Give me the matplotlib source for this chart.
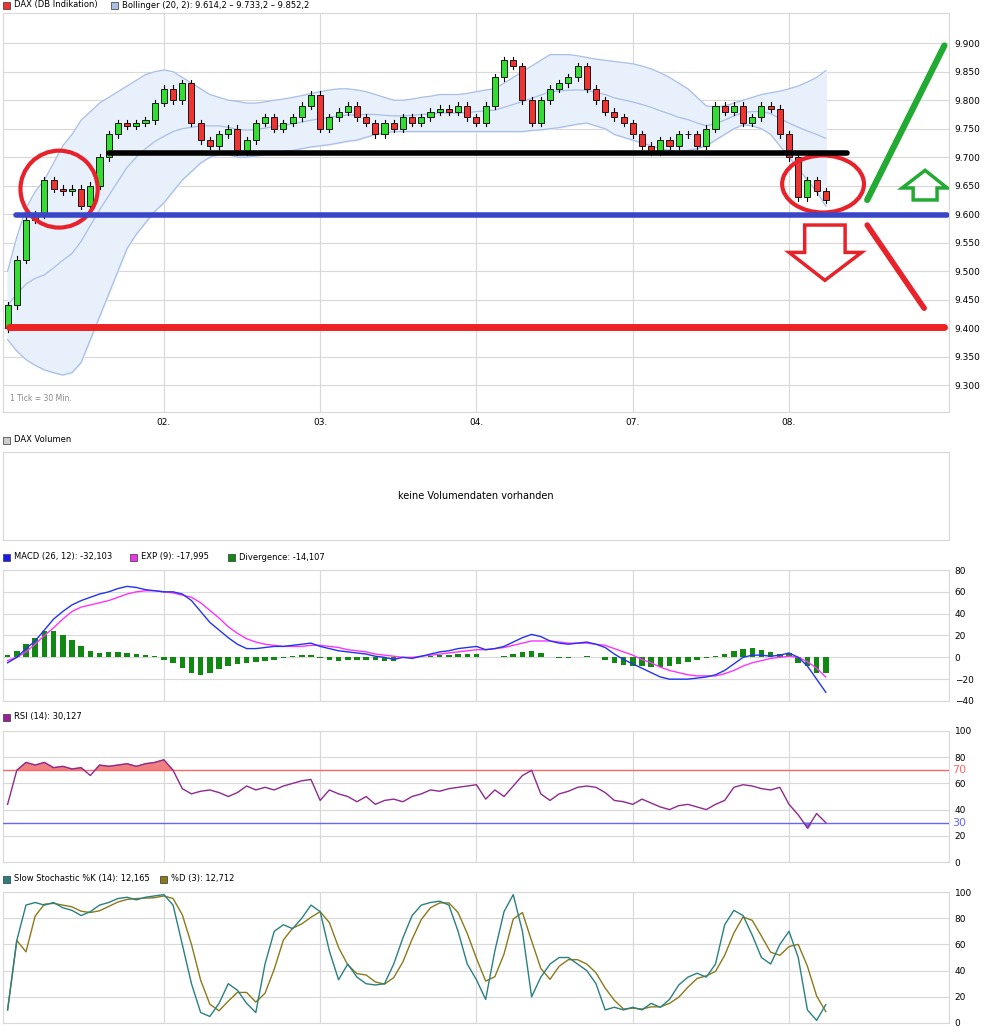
import numpy as np
import matplotlib
matplotlib.use("Agg")
import matplotlib.pyplot as plt
from matplotlib.patches import Ellipse, Polygon, Rectangle

# ---- data (30-min candles, index = candle number) ----
day_labels = ["02.", "03.", "04.", "07.", "08."]
day_starts = [17, 34, 51, 68, 85]
first_open = 9400
closes = [9440, 9520, 9590, 9600, 9660, 9645, 9640, 9645, 9615, 9650, 9700, 9740, 9760, 9755, 9760, 9765, 9795,
          9820, 9800, 9830, 9760, 9730, 9720, 9740, 9750, 9710, 9730, 9760, 9770, 9750, 9760, 9770, 9790, 9810,
          9750, 9770, 9780, 9790, 9770, 9760, 9740, 9760, 9750, 9770, 9760, 9770, 9780, 9785, 9780, 9790, 9770,
          9760, 9790, 9840, 9870, 9860, 9800, 9760, 9800, 9820, 9830, 9840, 9860, 9820, 9800, 9780, 9770, 9760,
          9740, 9720, 9710, 9730, 9720, 9740, 9740, 9720, 9750, 9790, 9780, 9790, 9760, 9770, 9790, 9785, 9740,
          9700, 9630, 9660, 9640, 9625]
boll_upper = [9500, 9560, 9610, 9640, 9660, 9690, 9720, 9740, 9765, 9780, 9795, 9805, 9815, 9825, 9835, 9845, 9850,
              9853, 9850, 9840, 9830, 9820, 9810, 9805, 9800, 9798, 9795, 9795, 9797, 9800, 9802, 9805, 9808, 9812,
              9815, 9818, 9820, 9820, 9818, 9815, 9810, 9805, 9800, 9800, 9802, 9805, 9807, 9810, 9810, 9810, 9812,
              9815, 9818, 9820, 9830, 9840, 9850, 9860, 9870, 9880, 9880, 9880, 9878, 9875, 9872, 9870, 9868, 9866,
              9864, 9860, 9855, 9848, 9840, 9830, 9820, 9805, 9790, 9788, 9790, 9795, 9800, 9805, 9810, 9813, 9816,
              9820, 9825, 9832, 9840, 9852]
boll_lower = [9380, 9360, 9345, 9335, 9327, 9322, 9318, 9322, 9340, 9380, 9420, 9460, 9500, 9540, 9565, 9585, 9605,
              9620, 9640, 9660, 9675, 9690, 9700, 9705, 9705, 9700, 9700, 9702, 9705, 9708, 9710, 9712, 9715, 9718,
              9720, 9722, 9725, 9728, 9730, 9735, 9740, 9742, 9745, 9745, 9745, 9745, 9745, 9745, 9745, 9745, 9745,
              9745, 9745, 9745, 9745, 9745, 9745, 9747, 9748, 9750, 9752, 9755, 9758, 9760, 9755, 9750, 9740, 9735,
              9730, 9725, 9720, 9715, 9712, 9710, 9712, 9715, 9720, 9730, 9740, 9750, 9757, 9755, 9750, 9740, 9720,
              9700, 9680, 9660, 9640, 9614]
macd = [-5, 0, 8, 15, 25, 35, 42, 48, 52, 55, 58, 60, 63, 65, 64, 62, 61, 60, 60, 58, 52, 42, 32, 25, 18, 12,
        8, 8, 9, 10, 10, 11, 12, 13, 10, 8, 6, 5, 4, 3, 1, 0, -2, 0, -1, 1, 3, 5, 6, 8, 9, 10, 7, 8, 10, 14,
        18, 21, 19, 15, 13, 12, 13, 14, 12, 9, 3, -2, -6, -10, -14, -18, -20, -20, -20, -19, -18, -16, -12, -6,
        0, 2, 2, 1, 2, 4, 0, -8, -20, -32]
signal = [-3, 0, 5, 12, 20, 27, 35, 42, 46, 48, 50, 52, 55, 58, 60, 61, 61, 60, 59, 57, 55, 50, 43, 36, 28, 22,
          17, 14, 12, 11, 10, 10, 10, 11, 11, 10, 9, 7, 6, 5, 3, 2, 1, 0, 0, 1, 2, 3, 4, 5, 6, 7, 7, 8, 9, 11,
          13, 15, 15, 15, 14, 13, 13, 13, 12, 11, 8, 5, 2, -2, -5, -9, -12, -14, -16, -17, -17, -17, -15, -12,
          -8, -5, -3, -1, 0, 1, 0, -4, -10, -18]
divergence = [2, 6, 12, 18, 24, 24, 20, 16, 10, 6, 4, 5, 5, 4, 3, 2, 1, -2, -5, -10, -14, -16, -14, -11, -8, -6,
              -5, -4, -3, -2, -1, 1, 2, 2, -1, -2, -3, -2, -2, -2, -2, -3, -3, 0, -1, 0, 1, 2, 2, 3, 3, 3, 0, 0,
              1, 3, 5, 6, 4, 0, -1, -1, 0, 1, 0, -2, -5, -7, -8, -8, -9, -9, -8, -6, -4, -2, -1, 1, 3, 6, 8, 9,
              7, 5, 3, 4, -5, -8, -14, -14]
rsi = [44, 70, 76, 74, 76, 72, 73, 71, 72, 66, 74, 73, 74, 75, 73, 75, 76, 78, 70, 56, 52, 54, 55, 53, 50, 53,
       58, 55, 57, 55, 58, 60, 62, 63, 47, 55, 52, 50, 46, 50, 44, 47, 48, 46, 50, 52, 55, 54, 56, 57, 58, 59,
       48, 55, 50, 58, 66, 70, 52, 47, 52, 54, 57, 58, 57, 53, 47, 46, 44, 48, 45, 42, 40, 43, 44, 42, 40, 44,
       47, 57, 59, 58, 56, 55, 57, 44, 36, 26, 37, 30]
stoch_k = [10, 63, 90, 92, 90, 92, 88, 86, 82, 85, 90, 92, 95, 96, 94, 96, 97, 98, 90, 60, 30, 8, 5, 15, 30, 25,
           15, 8, 45, 70, 75, 72, 80, 90, 85, 55, 33, 45, 35, 30, 29, 30, 45, 65, 82, 90, 92, 93, 90, 70, 45, 33,
           18, 55, 85, 98, 70, 20, 35, 45, 50, 50, 45, 40, 30, 10, 12, 10, 12, 10, 15, 12, 18, 29, 35, 38, 35, 45,
           75, 86, 82, 67, 50, 45, 60, 70, 50, 10, 2, 14]

x = np.arange(len(closes))
closes = np.array(closes, float)
opens = np.concatenate([[first_open], closes[:-1]])
upper = np.array(boll_upper, float)
lower = np.array(boll_lower, float)
mid = (upper + lower) / 2
stoch_d = np.convolve(stoch_k, np.ones(3) / 3, mode="full")[:len(stoch_k)]
stoch_d[:2] = stoch_k[:2]

W, H = 990, 1033
fig = plt.figure(figsize=(W / 100, H / 100), dpi=100)
plt.rcParams['font.family'] = ['DejaVu Sans']
FS = 6.5
GRID = "#d8d8d8"
XL = (-0.5, 102.4)


def add_ax(top, bottom, left=3, right=949):
    return fig.add_axes([left / W, 1 - bottom / H, (right - left) / W, (bottom - top) / H])


def style(ax, yticks, labels=None):
    ax.set_xlim(*XL)
    ax.yaxis.tick_right()
    ax.set_yticks(yticks)
    if labels is not None:
        ax.set_yticklabels(labels)
    ax.tick_params(axis="y", length=0, labelsize=FS, pad=4)
    ax.set_xticks(day_starts)
    ax.tick_params(axis="x", length=0, labelbottom=False)
    ax.grid(True, color=GRID, lw=0.8)
    ax.set_axisbelow(True)
    for s in ax.spines.values():
        s.set_color(GRID)


def header(ypx, items):
    for xpx, color, text in items:
        fig.patches.append(Rectangle((xpx / W, 1 - (ypx + 4) / H), 7 / W, 7 / H, transform=fig.transFigure,
                                     facecolor=color, edgecolor="#333333", lw=0.5))
        fig.text((xpx + 11) / W, 1 - ypx / H, text, fontsize=6, va="center", ha="left")


# ---- main price panel ----
ax = add_ax(13, 412)
ylo, yhi = 9253, 9953
ax.set_ylim(ylo, yhi)
ticks = list(range(9300, 9901, 50))
style(ax, ticks, ["%d.%03d" % (t // 1000, t % 1000) for t in ticks])
ax.set_xticks(day_starts)
ax.set_xticklabels(day_labels)
ax.tick_params(axis="x", labelbottom=True, labelsize=FS, pad=4)
ax.fill_between(x, lower, upper, color="#e8f0fc", zorder=1)
for band in (upper, lower, mid):
    ax.plot(x, band, color="#a9bfe6", lw=0.9, zorder=2)
for i in x:
    o, c = opens[i], closes[i]
    hi, lo = max(o, c) + 6, min(o, c) - 6
    ax.plot([i, i], [lo, hi], color="black", lw=0.8, zorder=3)
    col = "#33dd33" if c >= o else "#ee3333"
    ax.add_patch(Rectangle((i - 0.33, min(o, c)), 0.66, max(abs(c - o), 1.5), facecolor=col,
                           edgecolor="black", lw=0.6, zorder=4))
ax.text(0.3, 9272, "1 Tick = 30 Min.", fontsize=5.5, color="#888888")

# hand-drawn annotations
ax.add_patch(Ellipse((5.6, 9644), 8.4, 135, fill=False, ec="#e8222a", lw=3, zorder=6))
ax.add_patch(Ellipse((88.7, 9653), 8.9, 100, fill=False, ec="#e8222a", lw=3, zorder=6))
ax.plot([11, 91.3], [9707, 9707], color="black", lw=4, zorder=6, solid_capstyle="round")
ax.plot([0.9, 102.2], [9598, 9598], color="#3a46c8", lw=4, zorder=6, solid_capstyle="round")
ax.plot([0.1, 101.9], [9402, 9402], color="#ee2222", lw=5, zorder=6, solid_capstyle="round")
ax.plot([93.5, 101.9], [9625, 9896], color="#22aa33", lw=4.5, zorder=6, solid_capstyle="round")
ax.plot([93.5, 99.7], [9581, 9435], color="#e8222a", lw=4, zorder=6, solid_capstyle="round")
ax.add_patch(Polygon([(98.5, 9625), (98.5, 9646), (97.3, 9646), (99.8, 9677), (102.2, 9646), (101.1, 9646),
                      (101.1, 9625)], closed=True, fill=False, ec="#22aa33", lw=2.5, zorder=6))
ax.add_patch(Polygon([(86.7, 9581), (91.1, 9581), (91.1, 9533), (92.9, 9533), (88.9, 9484), (85.0, 9533),
                      (86.7, 9533)], closed=True, fill=False, ec="#e8222a", lw=2.5, zorder=6))

header(5, [(3, "#ee3333", "DAX (DB Indikation)"),
           (111, "#a9bfe6", "Bollinger (20, 2): 9.614,2 \u2013 9.733,2 \u2013 9.852,2")])

# ---- volume panel ----
header(440, [(3, "#cccccc", "DAX Volumen")])
axv = add_ax(452, 540)
axv.set_xticks([])
axv.set_yticks([])
for s in axv.spines.values():
    s.set_color(GRID)
axv.text(0.5, 0.5, "keine Volumendaten vorhanden", transform=axv.transAxes, ha="center", va="center", fontsize=7)

# ---- MACD ----
header(557, [(3, "#1a1aee", "MACD (26, 12): -32,103"), (130, "#ee33ee", "EXP (9): -17,995"),
             (228, "#118811", "Divergence: -14,107")])
axm = add_ax(570, 701)
axm.set_ylim(-40, 80)
style(axm, [-40, -20, 0, 20, 40, 60, 80], ["\u221240", "\u221220", "0", "20", "40", "60", "80"])
axm.bar(x, divergence, width=0.6, color="#118811", zorder=2)
axm.plot(x, signal, color="#ff33ff", lw=1, zorder=3)
axm.plot(x, macd, color="#2233ee", lw=1, zorder=4)

# ---- RSI ----
header(717, [(3, "#992299", "RSI (14): 30,127")])
axr = add_ax(731, 862)
axr.set_ylim(0, 100)
style(axr, [0, 20, 40, 60, 80, 100])
rsi_a = np.array(rsi, float)
axr.fill_between(x, 70, rsi_a, where=rsi_a > 70, interpolate=True, color="#f08080", zorder=2)
axr.fill_between(x, 30, rsi_a, where=rsi_a < 30, interpolate=True, color="#7777ee", zorder=2)
axr.axhline(70, color="#ff6666", lw=1, zorder=3)
axr.axhline(30, color="#6666ff", lw=1, zorder=3)
axr.plot(x, rsi_a, color="#8e2a8e", lw=1, zorder=4)
axr.text(1.003, 70, "70", transform=axr.get_yaxis_transform(), color="#ff6666", fontsize=8, va="center")
axr.text(1.003, 30, "30", transform=axr.get_yaxis_transform(), color="#6666ff", fontsize=8, va="center")

# ---- Slow Stochastic ----
header(879, [(3, "#2a8080", "Slow Stochastic %K (14): 12,165"), (160, "#8a7a1a", "%D (3): 12,712")])
axs = add_ax(892, 1023)
axs.set_ylim(0, 100)
style(axs, [0, 20, 40, 60, 80, 100])
axs.plot(x, stoch_d, color="#8a7a1a", lw=1)
axs.plot(x, stoch_k, color="#2a8080", lw=1)

fig.savefig("out.png", dpi=100)
